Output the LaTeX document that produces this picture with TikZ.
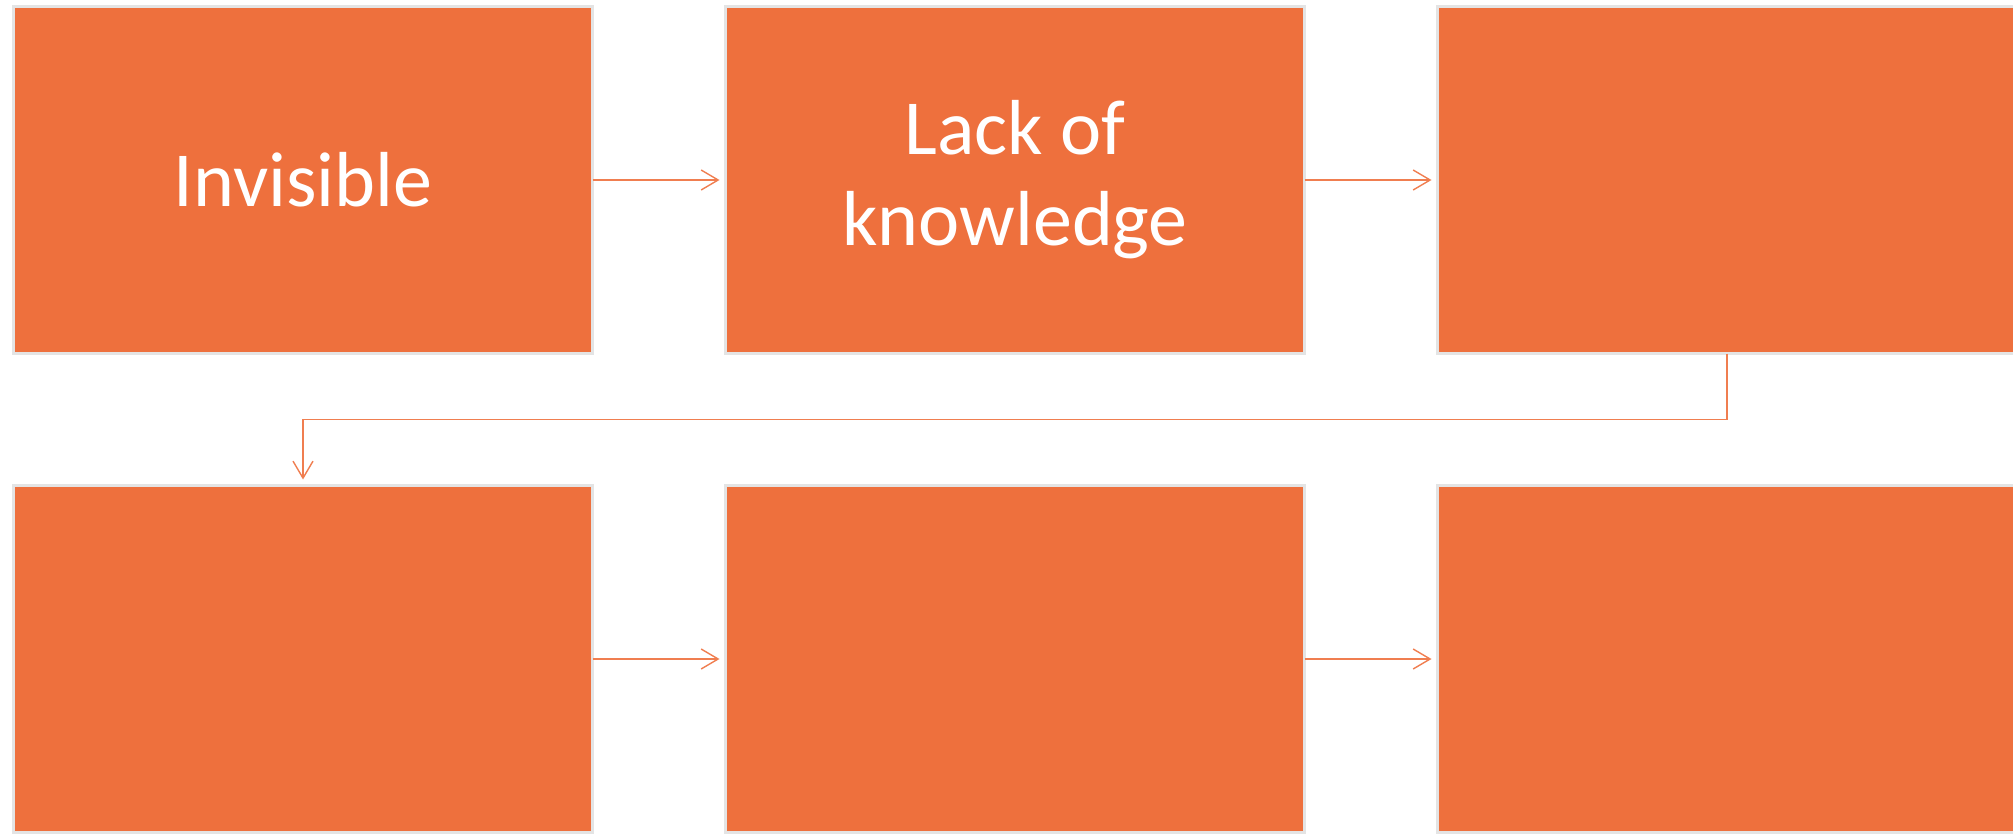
\documentclass[tikz,border=0pt]{standalone}
\usepackage{fontspec}
\setmainfont{Carlito}
\usetikzlibrary{arrows.meta}
\definecolor{boxorange}{HTML}{EE703D}
\definecolor{boxedge}{HTML}{E4E4E4}
\tikzset{
  stepbox/.style={fill=boxorange, draw=boxedge, line width=1.5pt, outer sep=0pt,
    minimum width=289.5pt, minimum height=173.5pt, inner sep=0pt,
    text=white, align=center, font=\fontsize{39pt}{45.5pt}\selectfont},
  link/.style={draw=boxorange!90!white, line width=0.7pt,
    -{Straight Barb[length=8.5pt,width=10pt]}, shorten >=3pt}
}
\begin{document}
\begin{tikzpicture}[x=0.5pt,y=-0.5pt]
  \useasboundingbox (0,0) rectangle (2013,834);
  \node[stepbox] (a) at (303,180) {Invisible};
  \node[stepbox] (b) at (1015,180) {Lack of\\knowledge};
  \node[stepbox] (c) at (1727,180) {};
  \node[stepbox] (d) at (303,659) {};
  \node[stepbox] (e) at (1015,659) {};
  \node[stepbox] (f) at (1727,659) {};
  \draw [link] (a) -- (b);
  \draw [link] (b) -- (c);
  \draw [link] (c.south) -- ++(0,66) -| (d.north);
  \draw [link] (d) -- (e);
  \draw [link] (e) -- (f);
\end{tikzpicture}
\end{document}
